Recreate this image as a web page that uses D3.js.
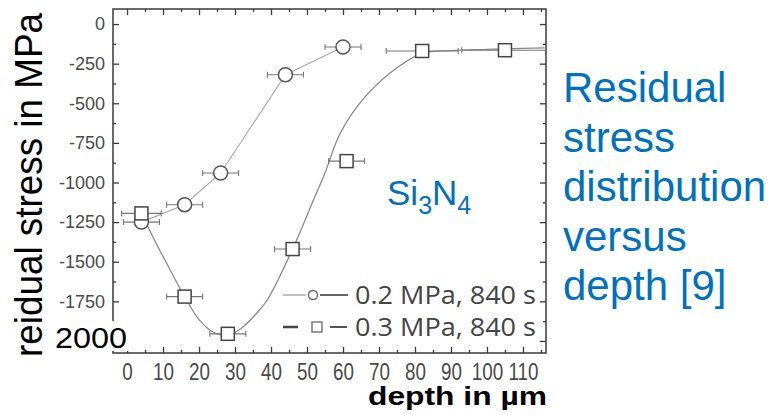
<!DOCTYPE html>
<html>
<head>
<meta charset="utf-8">
<script src="https://cdn.jsdelivr.net/npm/d3@7"></script>
<style>
  body { margin: 0; background: #fff; }
  svg { display: block; }
</style>
</head>
<body>
<div id="chart"></div>
<script>
// values
var circDepth = [4, 16, 26, 44, 60];
var circStress = [-1250, -1140, -940, -320, -145];
var circErr = [5, 5, 5, 5, 5];

var sqDepth = [4, 16, 28, 46, 61, 82, 105];
var sqStress = [-1195, -1720, -1955, -1420, -865, -170, -165];
var sqErr = [5.5, 5, 5, 5, 5, 10, 12];

// fitted curve through the square series
var fitDepth = [4, 8, 11, 16, 20, 24, 28, 32, 36, 39, 46, 52, 55, 59, 65, 73, 82, 90, 100, 116];
var fitStress = [-1200, -1380, -1510, -1720, -1865, -1945, -1965, -1915, -1825, -1740, -1420, -1100, -940, -700, -490, -310, -185, -168, -160, -150];

var xTicks = [0, 10, 20, 30, 40, 50, 60, 70, 80, 90, 100, 110];
var yTicks = [0, -250, -500, -750, -1000, -1250, -1500, -1750, -2000];
var legendLabels = ["0.2 MPa, 840 s", "0.3 MPa, 840 s"];
var noteLines = ["Residual", "stress", "distribution", "versus", "depth [9]"];

var width = 770, height = 415;
var svg = d3.select("#chart").append("svg")
  .attr("width", width)
  .attr("height", height);

// plot frame
var plotL = 113, plotR = 546, plotT = 9, plotB = 353;

var x = d3.scaleLinear().domain([-3.9, 116.4]).range([plotL, plotR]);
var y = d3.scaleLinear().domain([95, -2076]).range([plotT, plotB]);

svg.append("clipPath").attr("id", "plotclip")
  .append("rect")
  .attr("x", plotL).attr("y", plotT)
  .attr("width", plotR - plotL).attr("height", plotB - plotT);

var axisColor = "#3a3a3a";

function styleAxis(g) {
  g.select(".domain").remove();
  g.selectAll(".tick line").attr("stroke", axisColor).attr("stroke-width", 1.3);
}

// minor ticks (every 5 µm / 125 MPa), all sides, pointing inward
var minorX = d3.range(0, 116, 5).filter(function(d) { return d % 10 != 0; });
var minorY = d3.range(0, -2076, -125).filter(function(d) { return d % 250 != 0; });

svg.append("g").attr("transform", "translate(0," + plotB + ")")
  .call(d3.axisBottom(x).tickValues(minorX).tickSize(-3).tickFormat(""))
  .call(styleAxis);
svg.append("g").attr("transform", "translate(0," + plotT + ")")
  .call(d3.axisTop(x).tickValues(minorX).tickSize(-3).tickFormat(""))
  .call(styleAxis);
svg.append("g").attr("transform", "translate(" + plotL + ",0)")
  .call(d3.axisLeft(y).tickValues(minorY).tickSize(-3).tickFormat(""))
  .call(styleAxis);
svg.append("g").attr("transform", "translate(" + plotR + ",0)")
  .call(d3.axisRight(y).tickValues(minorY).tickSize(-3).tickFormat(""))
  .call(styleAxis);

// major ticks
var xAxis = svg.append("g").attr("transform", "translate(0," + plotB + ")")
  .call(d3.axisBottom(x).tickValues(xTicks).tickSizeInner(-6).tickSizeOuter(0).tickPadding(11)
    .tickFormat(function(d) { return String(d); }))
  .call(styleAxis);
xAxis.selectAll("text")
  .attr("fill", "#4a4a4a")
  .style("font-family", "Liberation Sans, Arial, sans-serif")
  .style("font-size", "23px")
  .attr("transform", "scale(0.82,1)");

var yAxis = svg.append("g").attr("transform", "translate(" + plotL + ",0)")
  .call(d3.axisLeft(y).tickValues(yTicks).tickSizeInner(-6).tickSizeOuter(0).tickPadding(8)
    .tickFormat(function(d) { return String(d); }))
  .call(styleAxis);
yAxis.selectAll("text")
  .attr("fill", "#4a4a4a")
  .style("font-family", "Liberation Sans, Arial, sans-serif")
  .style("font-size", "18px");

svg.append("g").attr("transform", "translate(0," + plotT + ")")
  .call(d3.axisTop(x).tickValues(xTicks).tickSize(-6).tickFormat(""))
  .call(styleAxis);
svg.append("g").attr("transform", "translate(" + plotR + ",0)")
  .call(d3.axisRight(y).tickValues(yTicks).tickSize(-6).tickFormat(""))
  .call(styleAxis);

svg.append("rect")
  .attr("x", plotL).attr("y", plotT)
  .attr("width", plotR - plotL).attr("height", plotB - plotT)
  .attr("fill", "none")
  .attr("stroke", axisColor)
  .attr("stroke-width", 1.5);

var plot = svg.append("g").attr("clip-path", "url(#plotclip)");

// fitted curve for 0.3 MPa
var fit = fitDepth.map(function(d, i) { return [d, fitStress[i]]; });
plot.append("path")
  .datum(fit)
  .attr("fill", "none")
  .attr("stroke", "#8a8a8a")
  .attr("stroke-width", 1.3)
  .attr("d", d3.line()
    .x(function(d) { return x(d[0]); })
    .y(function(d) { return y(d[1]); })
    .curve(d3.curveCatmullRom.alpha(0.5)));

// straight line for 0.2 MPa
var circ = circDepth.map(function(d, i) { return { x: d, y: circStress[i], e: circErr[i] }; });
var sq = sqDepth.map(function(d, i) { return { x: d, y: sqStress[i], e: sqErr[i] }; });

plot.append("path")
  .datum(circ)
  .attr("fill", "none")
  .attr("stroke", "#a8a8a8")
  .attr("stroke-width", 1.1)
  .attr("d", d3.line()
    .x(function(d) { return x(d.x); })
    .y(function(d) { return y(d.y); }));

// error bars
function errorBars(data) {
  var g = plot.append("g")
    .attr("stroke", "#777")
    .attr("stroke-width", 1.1);
  g.selectAll(".eb").data(data).enter().append("line")
    .attr("x1", function(d) { return x(d.x - d.e); })
    .attr("x2", function(d) { return x(d.x + d.e); })
    .attr("y1", function(d) { return y(d.y); })
    .attr("y2", function(d) { return y(d.y); });
  g.selectAll(".capl").data(data).enter().append("line")
    .attr("x1", function(d) { return x(d.x - d.e); })
    .attr("x2", function(d) { return x(d.x - d.e); })
    .attr("y1", function(d) { return y(d.y) - 3; })
    .attr("y2", function(d) { return y(d.y) + 3; });
  g.selectAll(".capr").data(data).enter().append("line")
    .attr("x1", function(d) { return x(d.x + d.e); })
    .attr("x2", function(d) { return x(d.x + d.e); })
    .attr("y1", function(d) { return y(d.y) - 3; })
    .attr("y2", function(d) { return y(d.y) + 3; });
}
errorBars(circ);
errorBars(sq);

// markers
plot.selectAll(".circ").data(circ).enter().append("circle")
  .attr("cx", function(d) { return x(d.x); })
  .attr("cy", function(d) { return y(d.y); })
  .attr("r", 7)
  .attr("fill", "#fff")
  .attr("stroke", "#555")
  .attr("stroke-width", 1.5);

plot.selectAll(".sq").data(sq).enter().append("rect")
  .attr("x", function(d) { return x(d.x) - 6.5; })
  .attr("y", function(d) { return y(d.y) - 6.5; })
  .attr("width", 13).attr("height", 13)
  .attr("fill", "#fff")
  .attr("stroke", "#444")
  .attr("stroke-width", 1.5);

// legend
var leg = svg.append("g");
leg.append("line").attr("x1", 283).attr("x2", 306).attr("y1", 295).attr("y2", 295)
  .attr("stroke", "#aaa").attr("stroke-width", 1.5);
leg.append("line").attr("x1", 320).attr("x2", 348).attr("y1", 295).attr("y2", 295)
  .attr("stroke", "#666").attr("stroke-width", 2);
leg.append("circle").attr("cx", 313).attr("cy", 295).attr("r", 4.5)
  .attr("fill", "#fff").attr("stroke", "#666").attr("stroke-width", 1.3);
leg.append("line").attr("x1", 283).attr("x2", 298).attr("y1", 327).attr("y2", 327)
  .attr("stroke", "#444").attr("stroke-width", 2.5);
leg.append("line").attr("x1", 330).attr("x2", 347).attr("y1", 327).attr("y2", 327)
  .attr("stroke", "#555").attr("stroke-width", 2);
leg.append("rect").attr("x", 312).attr("y", 322).attr("width", 10).attr("height", 10)
  .attr("fill", "#fff").attr("stroke", "#666").attr("stroke-width", 1.3);
leg.selectAll(".lt").data(legendLabels).enter().append("text")
  .attr("x", 355)
  .attr("y", function(d, i) { return 304 + i * 32; })
  .attr("textLength", 181)
  .attr("lengthAdjust", "spacingAndGlyphs")
  .attr("fill", "#444")
  .style("font-family", "Open Sans, sans-serif")
  .style("font-size", "25px")
  .text(function(d) { return d; });

// pasted "2000" covering the lowest tick label
svg.append("rect")
  .attr("x", 65).attr("y", 321)
  .attr("width", 64).attr("height", 30)
  .attr("fill", "#fff");
svg.append("text")
  .attr("x", 55).attr("y", 348)
  .attr("textLength", 72)
  .attr("lengthAdjust", "spacingAndGlyphs")
  .style("font-family", "Liberation Sans, Arial, sans-serif")
  .style("font-size", "29px")
  .attr("fill", "#000")
  .text("2000");

// axis titles
svg.append("text")
  .attr("transform", "translate(42,185) rotate(-90)")
  .attr("text-anchor", "middle")
  .attr("textLength", 344)
  .attr("lengthAdjust", "spacingAndGlyphs")
  .style("font-family", "Liberation Sans, Arial, sans-serif")
  .style("font-size", "38px")
  .attr("fill", "#000")
  .text("reidual stress in MPa");

svg.append("text")
  .attr("x", 368).attr("y", 405)
  .attr("textLength", 179)
  .attr("lengthAdjust", "spacingAndGlyphs")
  .style("font-family", "Liberation Sans, Arial, sans-serif")
  .style("font-size", "25px")
  .style("font-weight", "bold")
  .attr("fill", "#000")
  .text("depth in µm");

// Si3N4 label
var blue = "#0070c0";
var si = svg.append("text")
  .attr("x", 387).attr("y", 205)
  .style("font-family", "Liberation Sans, Arial, sans-serif")
  .style("font-size", "35px")
  .attr("fill", blue);
si.append("tspan").text("Si");
si.append("tspan").attr("dy", 9).style("font-size", "25px").text("3");
si.append("tspan").attr("dy", -9).text("N");
si.append("tspan").attr("dy", 9).style("font-size", "25px").text("4");

// side note
svg.append("g").selectAll("text").data(noteLines).enter().append("text")
  .attr("x", 563)
  .attr("y", function(d, i) { return 102 + i * 49.5; })
  .style("font-family", "Liberation Sans, Arial, sans-serif")
  .style("font-size", "42px")
  .attr("fill", blue)
  .text(function(d) { return d; });
</script>
</body>
</html>
